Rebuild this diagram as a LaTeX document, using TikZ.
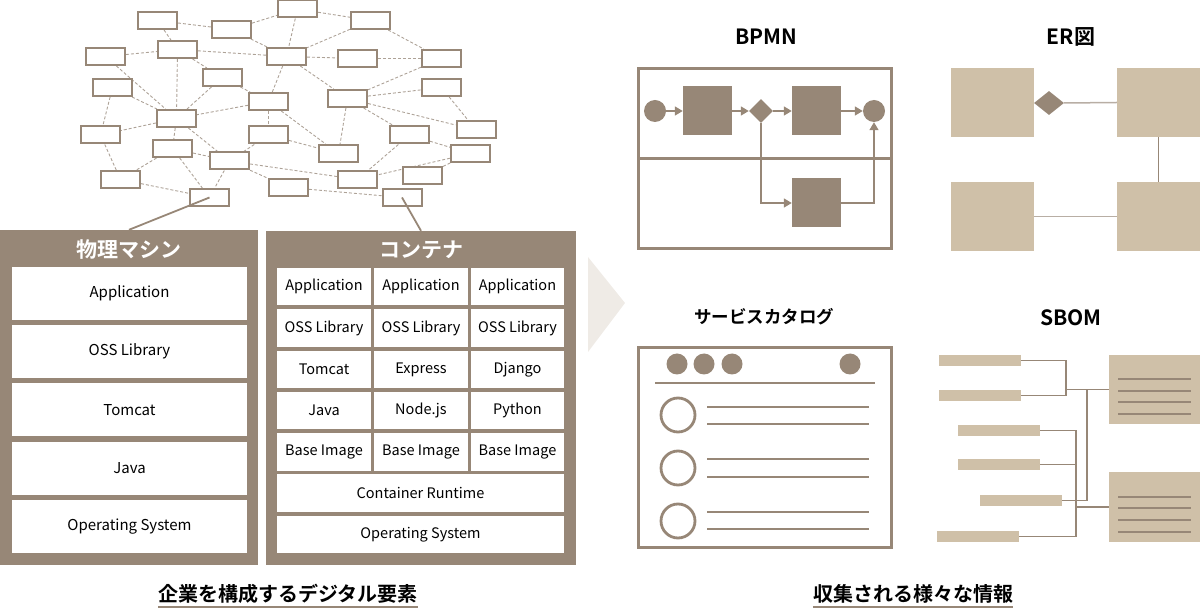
\documentclass[tikz,border=0pt]{standalone}
\usepackage{fontspec}
\setmainfont{Noto Sans CJK JP}[BoldFont={Noto Sans CJK JP Bold}]
\usetikzlibrary{arrows.meta,shapes.geometric,backgrounds}
\definecolor{brn}{HTML}{978777}
\definecolor{tanc}{HTML}{CFC0A8}
\definecolor{dsh}{HTML}{ADA297}
\definecolor{pale}{HTML}{EFEBE6}
\definecolor{erline}{HTML}{B8AEA4}
\begin{document}
\begin{tikzpicture}[x=1pt,y=-1pt,
  netbox/.style={draw=brn, line width=2pt, fill=white, minimum width=39pt, minimum height=17pt, inner sep=0pt},
  netedge/.style={draw=dsh, dash pattern=on 3pt off 2pt, line width=0.9pt},
  tieline/.style={draw=brn, line width=1.8pt},
  panelbox/.style={fill=brn, inner sep=0pt},
  stackbox/.style={fill=white, inner sep=0pt, minimum width=235pt, minimum height=53pt, font=\fontsize{15}{18}\selectfont},
  cellbox/.style={fill=white, inner sep=0pt, minimum width=93.5pt, minimum height=37.5pt, font=\fontsize{14.5}{17}\selectfont},
  widecell/.style={cellbox, minimum width=287pt},
  ptitle/.style={text=white, inner sep=0pt, font=\bfseries\fontsize{21}{24}\selectfont},
  headtext/.style={inner sep=0pt, font=\bfseries\fontsize{21}{24}\selectfont},
  headjp/.style={inner sep=0pt, font=\bfseries\fontsize{17.5}{21}\selectfont},
  captext/.style={inner sep=0pt, font=\bfseries\fontsize{20}{24}\selectfont},
  underline/.style={draw=brn, line width=2pt},
  taskbox/.style={fill=brn, minimum size=49pt, inner sep=0pt},
  eventdot/.style={circle, fill=brn, minimum size=22pt, inner sep=0pt},
  gatebox/.style={diamond, fill=brn, minimum width=24pt, minimum height=24pt, inner sep=0pt},
  flowarrow/.style={draw=brn, line width=1.5pt, -{Triangle[length=8pt,width=9pt]}},
  erbox/.style={fill=tanc, minimum width=83pt, minimum height=69pt, inner sep=0pt},
  catdot/.style={circle, fill=brn, minimum size=21pt, inner sep=0pt},
  catring/.style={circle, draw=brn, line width=2.8pt, minimum size=34pt, inner sep=0pt},
  catrule/.style={draw=brn, line width=2.8pt},
  sbbar/.style={fill=tanc, minimum width=82pt, minimum height=11pt, inner sep=0pt},
  sbdoc/.style={fill=tanc, minimum width=91pt, minimum height=69pt, inner sep=0pt},
  docline/.style={draw=brn, line width=2.8pt},
  sbline/.style={draw=brn, line width=1.3pt}
]
\useasboundingbox (0,0) rectangle (1200,609);

% ---------- network ----------
\node[netbox] (n1) at (157.5,20.5) {};
\node[netbox] (n2) at (231.5,29.5) {};
\node[netbox] (n3) at (297.5,9) {};
\node[netbox] (n4) at (370.5,20.5) {};
\node[netbox] (n5) at (105.5,56.5) {};
\node[netbox] (n6) at (177.5,49.5) {};
\node[netbox] (n7) at (286.5,56.5) {};
\node[netbox] (n8) at (357.5,58.5) {};
\node[netbox] (n9) at (441.5,58.5) {};
\node[netbox] (n10) at (112.5,87.5) {};
\node[netbox] (n11) at (222,77.5) {};
\node[netbox] (n12) at (441.5,87.5) {};
\node[netbox] (n13) at (268.5,101.5) {};
\node[netbox] (n14) at (347.5,98.5) {};
\node[netbox] (n15) at (176.5,118.5) {};
\node[netbox] (n16) at (100.5,135) {};
\node[netbox] (n17) at (268.5,135) {};
\node[netbox] (n18) at (409.5,135) {};
\node[netbox] (n19) at (476,130) {};
\node[netbox] (n20) at (172.5,148.5) {};
\node[netbox] (n21) at (338.5,153.5) {};
\node[netbox] (n22) at (470.5,153.5) {};
\node[netbox] (n23) at (229.5,161) {};
\node[netbox] (n24) at (120.5,179.5) {};
\node[netbox] (n25) at (422.5,176) {};
\node[netbox] (n26) at (357.5,179.5) {};
\node[netbox] (n27) at (288.5,187.5) {};
\node[netbox] (n28) at (209.5,197.5) {};
\node[netbox] (n29) at (402,197.5) {};
\begin{scope}[on background layer]
\foreach \a/\b in {1/2,1/6,2/3,2/7,3/4,3/7,4/7,4/9,5/6,6/7,6/11,6/15,5/15,7/8,8/9,7/13,7/14,9/14,10/15,10/16,11/15,11/13,13/15,13/17,13/21,14/12,14/19,14/21,14/18,12/19,15/16,15/20,15/23,16/24,17/21,17/23,18/22,18/26,20/24,20/23,20/28,22/25,22/26,23/26,23/28,23/27,24/28,27/29}
  \draw[netedge] (n\a) -- (n\b);
\end{scope}

% ---------- panels ----------
\node[panelbox, minimum width=258pt, minimum height=335pt] (phys) at (129,397.5) {};
\node[ptitle] (physt) at (129,250) {物理マシン};
\node[stackbox] (pl1) at (129.5,293.5) {Application};
\node[stackbox] (pl2) at (129.5,351.5) {OSS Library};
\node[stackbox] (pl3) at (129.5,410) {Tomcat};
\node[stackbox] (pl4) at (129.5,468.5) {Java};
\node[stackbox] (pl5) at (129.5,526.5) {Operating System};

\node[panelbox, minimum width=310pt, minimum height=334pt] (cont) at (421,398) {};
\node[ptitle] (contt) at (421,250) {コンテナ};
\node[cellbox] (c11) at (324,286.75) {Application};
\node[cellbox] (c12) at (421,286.75) {Application};
\node[cellbox] (c13) at (517.5,286.75) {Application};
\node[cellbox] (c21) at (324,328.05) {OSS Library};
\node[cellbox] (c22) at (421,328.05) {OSS Library};
\node[cellbox] (c23) at (517.5,328.05) {OSS Library};
\node[cellbox] (c31) at (324,369.35) {Tomcat};
\node[cellbox] (c32) at (421,369.35) {Express};
\node[cellbox] (c33) at (517.5,369.35) {Django};
\node[cellbox] (c41) at (324,410.65) {Java};
\node[cellbox] (c42) at (421,410.65) {Node.js};
\node[cellbox] (c43) at (517.5,410.65) {Python};
\node[cellbox] (c51) at (324,451.95) {Base Image};
\node[cellbox] (c52) at (421,451.95) {Base Image};
\node[cellbox] (c53) at (517.5,451.95) {Base Image};
\node[widecell] (c6) at (420.5,493.25) {Container Runtime};
\node[widecell] (c7) at (420.5,534.55) {Operating System};

\draw[tieline] (n28.center) -- (phys.north);
\draw[tieline] (n29.center) -- (cont.north);

% ---------- chevron ----------
\fill[pale] (588,257) -- (625,303) -- (588,352) -- cycle;

% ---------- BPMN ----------
\node[headtext] (hb) at (766,37) {BPMN};
\node[draw=brn, line width=2.5pt, minimum width=253pt, minimum height=180pt, inner sep=0pt] (bpmn) at (765,158.5) {};
\draw[brn, line width=2.5pt] (bpmn.west) -- (bpmn.east);
\node[eventdot] (bs) at (655,111) {};
\node[taskbox] (t1) at (707.5,111) {};
\node[gatebox] (gw) at (761,111) {};
\node[taskbox] (t2) at (816.5,111) {};
\node[eventdot] (be) at (874,111) {};
\node[taskbox] (t3) at (816.5,203) {};
\draw[flowarrow] (bs) -- (t1);
\draw[flowarrow] (t1) -- (gw);
\draw[flowarrow] (gw) -- (t2);
\draw[flowarrow] (t2) -- (be);
\draw[flowarrow] (gw.south) |- (t3.west);
\draw[flowarrow] (t3.east) -| (be.south);

% ---------- ER ----------
\node[headtext] (he) at (1071,37) {ER図};
\node[erbox] (ea) at (992.5,102.5) {};
\node[erbox] (eb) at (1158.5,102.5) {};
\node[erbox] (ec) at (992.5,216.5) {};
\node[erbox] (ed) at (1158.5,216.5) {};
\node[diamond, fill=brn, minimum width=30pt, minimum height=24pt, inner sep=0pt] (erd) at (1049,103) {};
\draw[erline, line width=1.5pt] (erd.east) -- (eb.west);
\draw[brn, line width=1.2pt] (eb.south) -- (ed.north);
\draw[erline, line width=1.5pt] (ec.east) -- (ed.west);

% ---------- service catalog ----------
\node[headjp] (hs) at (764,317) {サービスカタログ};
\node[draw=brn, line width=3pt, minimum width=253pt, minimum height=200pt, inner sep=0pt] (cat) at (765,447.5) {};
\node[catdot] (d1) at (677,364) {};
\node[catdot] (d2) at (704,364) {};
\node[catdot] (d3) at (732,364) {};
\node[catdot] (d4) at (850,364) {};
\draw[catrule] (655,383) -- (875,383);
\node[catring] (r1) at (678,415) {};
\node[catring] (r2) at (678,468) {};
\node[catring] (r3) at (678,521) {};
\foreach \y in {407,424,459,477,512,529}
  \draw[catrule] (707,\y) -- (869,\y);

% ---------- SBOM ----------
\node[headtext] (hm) at (1071,318) {SBOM};
\node[sbbar] (b1) at (980,360.5) {};
\node[sbbar] (b2) at (980,395.5) {};
\node[sbbar] (b3) at (999,430.5) {};
\node[sbbar] (b4) at (999,464.5) {};
\node[sbbar] (b5) at (1021,500.5) {};
\node[sbbar] (b6) at (978,536.5) {};
\node[sbdoc] (m1) at (1154.5,389.5) {};
\node[sbdoc, minimum height=70pt] (m2) at (1154.5,507) {};
\foreach \y in {379,391,402,414,497,508,520,532}
  \draw[docline] (1118,\y) -- (1191,\y);
\coordinate (j1) at (1066,389.5);
\coordinate (j2) at (1087,389.5);
\coordinate (j3) at (1076,507);
\draw[sbline] (b1.east) -| (1066,395.5) -- (b2.east);
\draw[sbline] (j1) -- (m1.west);
\draw[sbline] (j2) |- (b5.east);
\draw[sbline] (b3.east) -| (1076,536.5) -- (b6.east);
\draw[sbline] (b4.east) -- (1076,464.5);
\draw[sbline] (j3) -- (m2.west);

% ---------- captions ----------
\node[captext] (cap1) at (288,594) {企業を構成するデジタル要素};
\draw[underline] ([yshift=-3pt]cap1.south west) -- ([yshift=-3pt]cap1.south east);
\node[captext] (cap2) at (913,594) {収集される様々な情報};
\draw[underline] ([yshift=-3pt]cap2.south west) -- ([yshift=-3pt]cap2.south east);
\end{tikzpicture}
\end{document}
